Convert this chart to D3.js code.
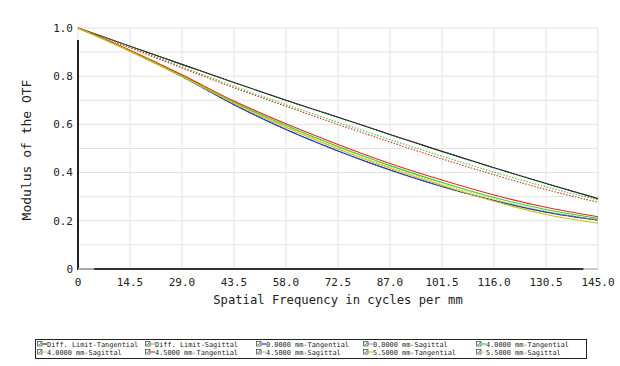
<!DOCTYPE html>
<html><head><meta charset="utf-8">
<script src="https://cdn.jsdelivr.net/npm/d3@7"></script>
<style>body{margin:0;background:#fff;}svg{display:block;}</style>
</head><body>
<svg id="c" width="620" height="366"></svg>
<script>
const freqs = [0, 14.5, 29.0, 43.5, 58.0, 72.5, 87.0, 101.5, 116.0, 130.5, 145.0];
const xTickLabels = ["0","14.5","29.0","43.5","58.0","72.5","87.0","101.5","116.0","130.5","145.0"];
const yTicks = [0, 0.2, 0.4, 0.6, 0.8, 1.0];
const yTickLabels = ["0","0.2","0.4","0.6","0.8","1.0"];

const diffT   = [1, 0.924, 0.849, 0.774, 0.700, 0.630, 0.558, 0.488, 0.420, 0.355, 0.292];
const diffS   = [1, 0.924, 0.849, 0.774, 0.700, 0.630, 0.558, 0.488, 0.420, 0.355, 0.292];
const f0T     = [1, 0.905, 0.799, 0.682, 0.579, 0.490, 0.411, 0.342, 0.284, 0.236, 0.203];
const f0S     = [1, 0.905, 0.799, 0.682, 0.579, 0.490, 0.411, 0.342, 0.284, 0.236, 0.203];
const f40T    = [1, 0.906, 0.803, 0.692, 0.595, 0.508, 0.429, 0.359, 0.297, 0.247, 0.210];
const f40S    = [1, 0.921, 0.839, 0.758, 0.682, 0.609, 0.537, 0.468, 0.402, 0.341, 0.287];
const f45T    = [1, 0.908, 0.806, 0.697, 0.603, 0.517, 0.438, 0.369, 0.307, 0.256, 0.217];
const f45S    = [1, 0.918, 0.834, 0.752, 0.675, 0.600, 0.527, 0.457, 0.391, 0.330, 0.277];
const f55T    = [1, 0.903, 0.799, 0.687, 0.587, 0.498, 0.418, 0.347, 0.281, 0.226, 0.190];
const f55S    = [1, 0.905, 0.801, 0.689, 0.591, 0.503, 0.423, 0.353, 0.290, 0.240, 0.204];

const seriesNames = ["Diff. Limit-Tangential","Diff. Limit-Sagittal","0.0000 mm-Tangential","0.0000 mm-Sagittal","4.0000 mm-Tangential","4.0000 mm-Sagittal","4.5000 mm-Tangential","4.5000 mm-Sagittal","5.5000 mm-Tangential","5.5000 mm-Sagittal"];
const seriesValues = [diffT, diffS, f0T, f0S, f40T, f40S, f45T, f45S, f55T, f55S];
const seriesColors = ["#2a2a2a","#2a2a2a","#2233cc","#2233cc","#33cc33","#33cc33","#e02a2a","#e02a2a","#c8c800","#c8c800"];
const seriesDashed = [false,true,false,true,false,true,false,true,false,true];

const svg = d3.select("#c");
const L = 78, R = 598, T = 28, B = 269;
const x = d3.scaleLinear().domain([0,145]).range([L,R]);
const y = d3.scaleLinear().domain([0,1]).range([B,T]);
const mono = "'DejaVu Sans Mono', 'Liberation Mono', monospace";

// grid
const g = svg.append("g");
d3.range(0, 1.0001, 0.1).forEach(v => {
  g.append("line").attr("x1",L).attr("x2",R).attr("y1",y(v)).attr("y2",y(v))
   .attr("stroke","#e2e2e2").attr("stroke-width",1);
});
freqs.forEach(f => {
  g.append("line").attr("x1",x(f)).attr("x2",x(f)).attr("y1",T).attr("y2",B)
   .attr("stroke","#e2e2e2").attr("stroke-width",1);
});
// axes dark parts
svg.append("line").attr("x1",x(0)).attr("x2",x(0)).attr("y1",y(0.95)).attr("y2",B+1)
  .attr("stroke","#222").attr("stroke-width",2);
svg.append("line").attr("x1",x(0)).attr("x2",x(4.5)).attr("y1",B).attr("y2",B)
  .attr("stroke","#aaa").attr("stroke-width",2);
svg.append("line").attr("x1",x(4.5)).attr("x2",x(141)).attr("y1",B).attr("y2",B)
  .attr("stroke","#333").attr("stroke-width",2);
svg.append("line").attr("x1",x(141)).attr("x2",R).attr("y1",B).attr("y2",B)
  .attr("stroke","#ccc").attr("stroke-width",2);

// tick labels
yTicks.forEach((v,i) => {
  svg.append("text").attr("x",73).attr("y",y(v)).attr("dy","0.35em")
    .attr("text-anchor","end").attr("font-family",mono).attr("font-size",11)
    .attr("fill","#222").text(yTickLabels[i]);
});
freqs.forEach((f,i) => {
  svg.append("text").attr("x",x(f)).attr("y",286)
    .attr("text-anchor","middle").attr("font-family",mono).attr("font-size",11)
    .attr("fill","#222").text(xTickLabels[i]);
});
svg.append("text").attr("x",338).attr("y",304).attr("text-anchor","middle")
  .attr("font-family",mono).attr("font-size",12.2).attr("fill","#222")
  .text("Spatial Frequency in cycles per mm");
svg.append("text").attr("transform","translate(31,150) rotate(-90)")
  .attr("text-anchor","middle").attr("font-family",mono).attr("font-size",13)
  .attr("fill","#222").text("Modulus of the OTF");

// curves
const line = d3.line().x((d,i)=>x(freqs[i])).y(d=>y(d)).curve(d3.curveMonotoneX);
const order = [0,1,5,7,2,3,4,6,9,8];
order.forEach(k => {
  svg.append("path").datum(seriesValues[k]).attr("d",line)
    .attr("fill","none").attr("stroke",seriesColors[k]).attr("stroke-width",1.1)
    .attr("stroke-dasharray", seriesDashed[k] ? "1.5,1.5" : null);
});

// legend
const lg = svg.append("g");
lg.append("rect").attr("x",35.5).attr("y",339.5).attr("width",551).attr("height",19)
  .attr("fill","#fff").attr("stroke","#222").attr("stroke-width",1);
const colX = [38, 146, 257, 364, 477];
const rowY = [345, 353];
seriesNames.forEach((name,i) => {
  const cx = colX[i%5], cy = rowY[Math.floor(i/5)];
  lg.append("rect").attr("x",cx-0.5).attr("y",cy-3.5).attr("width",4.5).attr("height",4.5)
    .attr("fill","#fff").attr("stroke","#555").attr("stroke-width",0.8);
  lg.append("path").attr("d",`M${cx+0.3},${cy-1.3} L${cx+1.6},${cy} L${cx+3.5},${cy-3}`)
    .attr("fill","none").attr("stroke","#2a9a2a").attr("stroke-width",0.9);
  lg.append("line").attr("x1",cx+4.5).attr("x2",cx+9).attr("y1",cy-1).attr("y2",cy-1)
    .attr("stroke",seriesColors[i]).attr("stroke-width",1.2)
    .attr("stroke-dasharray", seriesDashed[i] ? "1,1" : null);
  lg.append("text").attr("x",cx+9).attr("y",cy+1.5).attr("font-family",mono)
    .attr("font-size",6.9).attr("fill","#222").text(name);
});
</script>
</body></html>
